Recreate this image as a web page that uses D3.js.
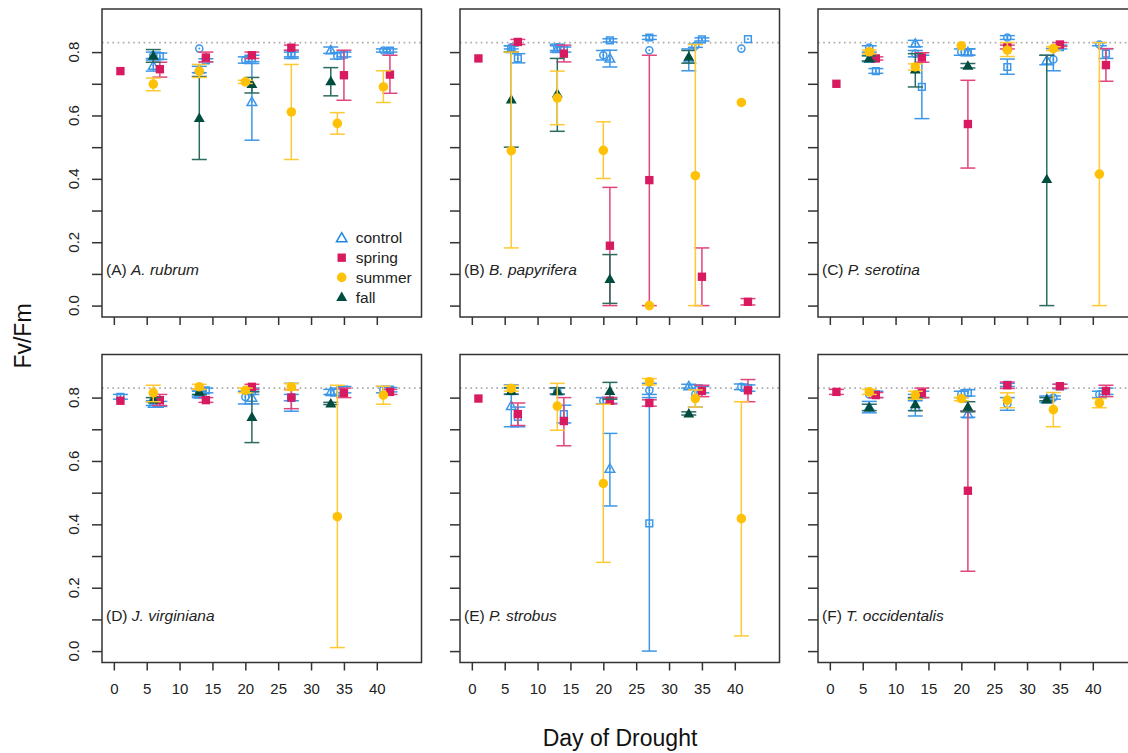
<!DOCTYPE html>
<html>
<head>
<meta charset="utf-8">
<script src="https://cdn.jsdelivr.net/npm/d3@7"></script>
<style>
  html, body { margin: 0; padding: 0; background: #fff; }
  svg { display: block; font-family: "Liberation Sans", Arial, Helvetica, sans-serif; }
</style>
</head>
<body>
<svg id="chart" width="1128" height="753"></svg>
<script>
// Measurement days for each treatment
const springDays = [1, 7, 14, 21, 27, 35, 42];
const summerDays = [6, 13, 20, 27, 34, 41];
const fallDays = [6, 13, 21, 33];

const panelTags = ["(A)", "(B)", "(C)", "(D)", "(E)", "(F)"];
const speciesNames = ["A. rubrum", "B. papyrifera", "P. serotina", "J. virginiana", "P. strobus", "T. occidentalis"];
const seriesNames = ["control", "spring", "summer", "fall"];
const xTickValues = [0, 5, 10, 15, 20, 25, 30, 35, 40];
const yTickValues = [0, 0.1, 0.2, 0.3, 0.4, 0.5, 0.6, 0.7, 0.8];
const yLabelValues = [0, 0.2, 0.4, 0.6, 0.8];
const referenceLevel = 0.83;

// Each entry: [mean, lower, upper]; null = not measured
// (A) A. rubrum
const springA = [[0.74,0.74,0.74],[0.746,0.721,0.768],[0.783,0.769,0.80],[0.79,0.78,0.80],[0.814,0.806,0.822],[0.727,0.648,0.806],[0.729,0.67,0.79]];
const summerA = [[0.699,0.678,0.718],[0.74,0.72,0.761],[0.706,0.701,0.711],[0.611,0.461,0.761],[0.575,0.541,0.609],[0.69,0.641,0.741]];
const fallA = [[0.788,0.768,0.808],[0.592,0.461,0.723],[0.699,0.671,0.72],[0.708,0.662,0.751]];
const ctrlFallA = [[0.757,0.74,0.775],[0.745,0.735,0.755],[0.643,0.522,0.764],[0.806,0.796,0.816]];
const ctrlSummerA = [[0.79,0.78,0.80],[0.811,0.811,0.811],[0.775,0.765,0.785],[0.795,0.785,0.805],[0.788,0.778,0.798],[0.805,0.80,0.81]];
const ctrlSpringA = [null,[0.787,0.777,0.797],[0.774,0.769,0.779],[0.78,0.77,0.79],[0.79,0.78,0.80],[0.792,0.785,0.80],[0.805,0.80,0.81]];

// (B) B. papyrifera
const springB = [[0.78,0.78,0.78],[0.832,0.824,0.84],[0.795,0.769,0.822],[0.189,0.0,0.373],[0.396,0.0,0.79],[0.091,0.0,0.182],[0.012,0.002,0.022]];
const summerB = [[0.489,0.182,0.80],[0.655,0.571,0.74],[0.49,0.401,0.58],[0.0,0.0,0.0],[0.41,0.0,0.824],[0.641,0.641,0.641]];
const fallB = [[0.65,0.50,0.80],[0.669,0.55,0.78],[0.084,0.007,0.161],[0.785,0.765,0.805]];
const ctrlFallB = [[0.81,0.80,0.82],[0.81,0.80,0.82],[0.78,0.753,0.806],[0.78,0.741,0.81]];
const ctrlSummerB = [[0.815,0.81,0.82],[0.815,0.805,0.825],[0.79,0.775,0.805],[0.806,0.806,0.806],[0.82,0.815,0.825],[0.811,0.811,0.811]];
const ctrlSpringB = [null,[0.78,0.766,0.795],[0.808,0.80,0.816],[0.837,0.832,0.842],[0.846,0.84,0.852],[0.84,0.835,0.845],[0.841,0.841,0.841]];

// (C) P. serotina
const springC = [[0.70,0.70,0.70],[0.78,0.775,0.785],[0.783,0.768,0.798],[0.573,0.434,0.711],[0.816,0.81,0.822],[0.824,0.818,0.83],[0.759,0.708,0.811]];
const summerC = [[0.801,0.795,0.807],[0.753,0.743,0.763],[0.82,0.82,0.82],[0.806,0.786,0.83],[0.811,0.805,0.817],[0.415,0.0,0.83]];
const fallC = [[0.78,0.772,0.788],[0.745,0.69,0.795],[0.757,0.75,0.764],[0.399,0.0,0.79]];
const ctrlFallC = [[0.78,0.77,0.79],[0.827,0.817,0.837],[0.80,0.79,0.81],[0.774,0.76,0.79]];
const ctrlSummerC = [[0.814,0.80,0.82],[0.795,0.785,0.805],[0.80,0.79,0.81],[0.846,0.84,0.852],[0.777,0.741,0.811],[0.824,0.82,0.83]];
const ctrlSpringC = [null,[0.74,0.733,0.748],[0.69,0.59,0.79],[0.80,0.79,0.81],[0.753,0.73,0.778],[0.816,0.81,0.822],[0.795,0.78,0.81]];

// (D) J. virginiana
const springD = [[0.79,0.79,0.79],[0.792,0.775,0.81],[0.792,0.785,0.80],[0.834,0.826,0.842],[0.80,0.765,0.825],[0.815,0.80,0.83],[0.818,0.81,0.826]];
const summerD = [[0.815,0.787,0.839],[0.834,0.826,0.842],[0.823,0.815,0.83],[0.834,0.824,0.844],[0.424,0.011,0.839],[0.808,0.779,0.836]];
const fallD = [[0.794,0.787,0.80],[0.818,0.81,0.826],[0.739,0.658,0.818],[0.781,0.778,0.785]];
const ctrlFallD = [[0.781,0.775,0.79],[0.81,0.80,0.82],[0.80,0.78,0.82],[0.818,0.81,0.826]];
const ctrlSummerD = [[0.79,0.79,0.79],[0.815,0.805,0.825],[0.802,0.78,0.82],[0.80,0.757,0.845],[0.818,0.805,0.83],[0.825,0.815,0.835]];
const ctrlSpringD = [[0.802,0.795,0.81],[0.78,0.772,0.788],[0.823,0.815,0.83],[0.82,0.81,0.83],[0.80,0.79,0.81],[0.825,0.815,0.835],[0.825,0.818,0.832]];

// (E) P. strobus
const springE = [[0.797,0.797,0.797],[0.748,0.712,0.783],[0.726,0.648,0.80],[0.79,0.78,0.80],[0.783,0.773,0.793],[0.821,0.803,0.839],[0.823,0.787,0.857]];
const summerE = [[0.829,0.82,0.838],[0.773,0.697,0.845],[0.529,0.28,0.779],[0.85,0.84,0.86],[0.797,0.77,0.824],[0.418,0.048,0.787]];
const fallE = [[0.821,0.811,0.831],[0.821,0.811,0.831],[0.821,0.795,0.848],[0.75,0.745,0.755]];
const ctrlFallE = [[0.774,0.708,0.84],[0.82,0.81,0.83],[0.576,0.458,0.687],[0.836,0.83,0.842]];
const ctrlSummerE = [[0.82,0.81,0.83],[0.82,0.82,0.82],[0.79,0.78,0.80],[0.823,0.80,0.845],[0.81,0.77,0.84],[0.834,0.825,0.843]];
const ctrlSpringE = [null,[0.739,0.708,0.77],[0.748,0.72,0.776],[0.79,0.782,0.80],[0.403,0.0,0.81],[0.825,0.815,0.835],[0.83,0.82,0.84]];

// (F) T. occidentalis
const springF = [[0.818,0.81,0.826],[0.808,0.80,0.816],[0.815,0.80,0.83],[0.506,0.252,0.757],[0.839,0.829,0.849],[0.836,0.83,0.842],[0.821,0.803,0.839]];
const summerF = [[0.818,0.81,0.826],[0.808,0.795,0.82],[0.797,0.79,0.80],[0.792,0.768,0.815],[0.762,0.708,0.816],[0.783,0.768,0.797]];
const fallF = [[0.769,0.759,0.779],[0.779,0.759,0.80],[0.771,0.755,0.787],[0.794,0.79,0.80]];
const ctrlFallF = [[0.77,0.752,0.788],[0.77,0.742,0.797],[0.748,0.738,0.758],[0.795,0.785,0.805]];
const ctrlSummerF = [[0.81,0.81,0.81],[0.80,0.79,0.81],[0.81,0.80,0.82],[0.78,0.76,0.80],[0.80,0.795,0.805],[0.81,0.80,0.82]];
const ctrlSpringF = [null,[0.81,0.80,0.82],[0.81,0.80,0.82],[0.815,0.805,0.825],[0.84,0.835,0.845],[0.835,0.828,0.842],[0.82,0.81,0.83]];

const panelData = [
  [springA, summerA, fallA, ctrlFallA, ctrlSummerA, ctrlSpringA],
  [springB, summerB, fallB, ctrlFallB, ctrlSummerB, ctrlSpringB],
  [springC, summerC, fallC, ctrlFallC, ctrlSummerC, ctrlSpringC],
  [springD, summerD, fallD, ctrlFallD, ctrlSummerD, ctrlSpringD],
  [springE, summerE, fallE, ctrlFallE, ctrlSummerE, ctrlSpringE],
  [springF, summerF, fallF, ctrlFallF, ctrlSummerF, ctrlSpringF]
];

// ---- styling ----
const colors = { control: "#1E88E5", spring: "#D81B60", summer: "#FFC107", fall: "#004D40" };
const barColors = { control: "#3d97e8", spring: "#e0457d", summer: "#ffc933", fall: "#2c6b60" };

const svg = d3.select("#chart");
const panelLefts = [102, 460, 818];
const panelTops = [9, 354.5];
const pw = 319.5, ph = 308;

const x = d3.scaleLinear().domain([-1.8, 46.8]).range([0, pw]);
const y = d3.scaleLinear().domain([-0.036, 0.936]).range([ph, 0]);

function pairs(days, vals) {
  return days.map((d, i) => vals[i] ? { day: d, m: vals[i][0], lo: vals[i][1], hi: vals[i][2] } : null).filter(Boolean);
}

function drawBars(g, data, key) {
  const bars = data.filter(d => d.hi - d.lo > 0.0005);
  const cw = 7.5;
  const bg = g.append("g").attr("stroke", barColors[key]).attr("stroke-width", 1.5).attr("fill", "none");
  bars.forEach(d => {
    const cx = x(d.day);
    bg.append("line").attr("x1", cx).attr("x2", cx).attr("y1", y(d.lo)).attr("y2", y(d.hi));
    bg.append("line").attr("x1", cx - cw).attr("x2", cx + cw).attr("y1", y(d.lo)).attr("y2", y(d.lo));
    bg.append("line").attr("x1", cx - cw).attr("x2", cx + cw).attr("y1", y(d.hi)).attr("y2", y(d.hi));
  });
}

function drawMarks(g, data, type, size, filled, color, dyShift) {
  const sym = d3.symbol().type(type).size(size);
  const mg = g.append("g");
  data.forEach(d => {
    const p = mg.append("path")
      .attr("d", sym())
      .attr("transform", `translate(${x(d.day)},${y(d.m) + (dyShift || 0)})`);
    if (filled) p.attr("fill", color);
    else p.attr("fill", "none").attr("stroke", color).attr("stroke-width", 1.5);
    if (!filled) {
      mg.append("circle").attr("cx", x(d.day)).attr("cy", y(d.m)).attr("r", 1).attr("fill", color);
    }
  });
}

panelData.forEach((series, idx) => {
  const col = idx % 3, row = Math.floor(idx / 3);
  const g = svg.append("g").attr("transform", `translate(${panelLefts[col]},${panelTops[row]})`);

  // reference line
  g.append("line")
    .attr("x1", 0).attr("x2", pw)
    .attr("y1", y(referenceLevel)).attr("y2", y(referenceLevel))
    .attr("stroke", "#aaaaaa").attr("stroke-width", 1.6).attr("stroke-dasharray", "1.6,3.6");

  const [sp, su, fa, cFa, cSu, cSp] = series;
  const spring = pairs(springDays, sp), summer = pairs(summerDays, su), fall = pairs(fallDays, fa);
  const ctrlTri = pairs(fallDays, cFa), ctrlCirc = pairs(summerDays, cSu), ctrlSq = pairs(springDays, cSp);

  // controls (open symbols)
  drawBars(g, ctrlTri, "control");
  drawBars(g, ctrlCirc, "control");
  drawBars(g, ctrlSq, "control");
  drawMarks(g, ctrlTri, d3.symbolTriangle, 40, false, barColors.control, 0.8);
  drawMarks(g, ctrlCirc, d3.symbolCircle, 40, false, barColors.control);
  drawMarks(g, ctrlSq, d3.symbolSquare, 45, false, barColors.control);

  // treatments
  drawBars(g, spring, "spring");
  drawMarks(g, spring, d3.symbolSquare, 70, true, colors.spring);
  drawBars(g, fall, "fall");
  drawMarks(g, fall, d3.symbolTriangle, 52, true, colors.fall, 0.8);
  drawBars(g, summer, "summer");
  drawMarks(g, summer, d3.symbolCircle, 72, true, colors.summer);

  // frame
  g.append("rect").attr("x", 0).attr("y", 0).attr("width", pw).attr("height", ph)
    .attr("fill", "none").attr("stroke", "#333").attr("stroke-width", 1.5);

  // x axis
  const xAxis = d3.axisBottom(x).tickValues(xTickValues).tickSize(8).tickPadding(13)
    .tickFormat(row === 1 ? d3.format("d") : () => "");
  const xg = g.append("g").attr("transform", `translate(0,${ph})`).call(xAxis);
  xg.select(".domain").remove();
  xg.selectAll(".tick line").attr("stroke", "#333").attr("stroke-width", 1.5);
  xg.selectAll(".tick text").attr("font-size", 15).attr("fill", "#222")
    .attr("font-family", "'Liberation Sans', Arial, sans-serif");

  // y axis
  const yAxis = d3.axisLeft(y).tickValues(yTickValues).tickSize(10).tickFormat(() => "");
  const yg = g.append("g").call(yAxis);
  yg.select(".domain").remove();
  yg.selectAll(".tick line").attr("stroke", "#333").attr("stroke-width", 1.5);
  if (col === 0) {
    g.append("g").selectAll("text").data(yLabelValues).join("text")
      .attr("transform", v => `translate(-23,${y(v)}) rotate(-90)`)
      .attr("text-anchor", "middle")
      .attr("font-size", 15).attr("fill", "#222")
      .text(d3.format(".1f"));
  }

  // panel label
  const lab = g.append("text").attr("x", 4).attr("y", 266).attr("font-size", 15.5).attr("fill", "#222");
  lab.append("tspan").text(panelTags[idx] + " ");
  lab.append("tspan").attr("font-style", "italic").text(speciesNames[idx]);

  // legend in first panel
  if (idx === 0) {
    const lg = g.append("g").attr("transform", "translate(239.7,229)");
    const legendSyms = [
      { type: d3.symbolTriangle, size: 48, filled: false, color: colors.control, dy: 0.8 },
      { type: d3.symbolSquare, size: 70, filled: true, color: colors.spring, dy: 0 },
      { type: d3.symbolCircle, size: 72, filled: true, color: colors.summer, dy: 0 },
      { type: d3.symbolTriangle, size: 52, filled: true, color: colors.fall, dy: 0.8 }
    ];
    seriesNames.forEach((name, i) => {
      const s = legendSyms[i];
      const p = lg.append("path").attr("d", d3.symbol().type(s.type).size(s.size)())
        .attr("transform", `translate(0,${i * 19.7 + s.dy})`);
      if (s.filled) p.attr("fill", s.color);
      else p.attr("fill", "none").attr("stroke", s.color).attr("stroke-width", 1.5);
      lg.append("text").attr("x", 14).attr("y", i * 19.7).attr("dy", "0.35em")
        .attr("font-size", 15.5).attr("fill", "#222").text(name);
    });
  }
});

// axis titles
svg.append("text").attr("transform", "translate(31,336) rotate(-90)")
  .attr("text-anchor", "middle").attr("font-size", 23).attr("fill", "#111").text("Fv/Fm");
svg.append("text").attr("x", 620).attr("y", 746)
  .attr("text-anchor", "middle").attr("font-size", 23).attr("fill", "#111").text("Day of Drought");
</script>
</body>
</html>
